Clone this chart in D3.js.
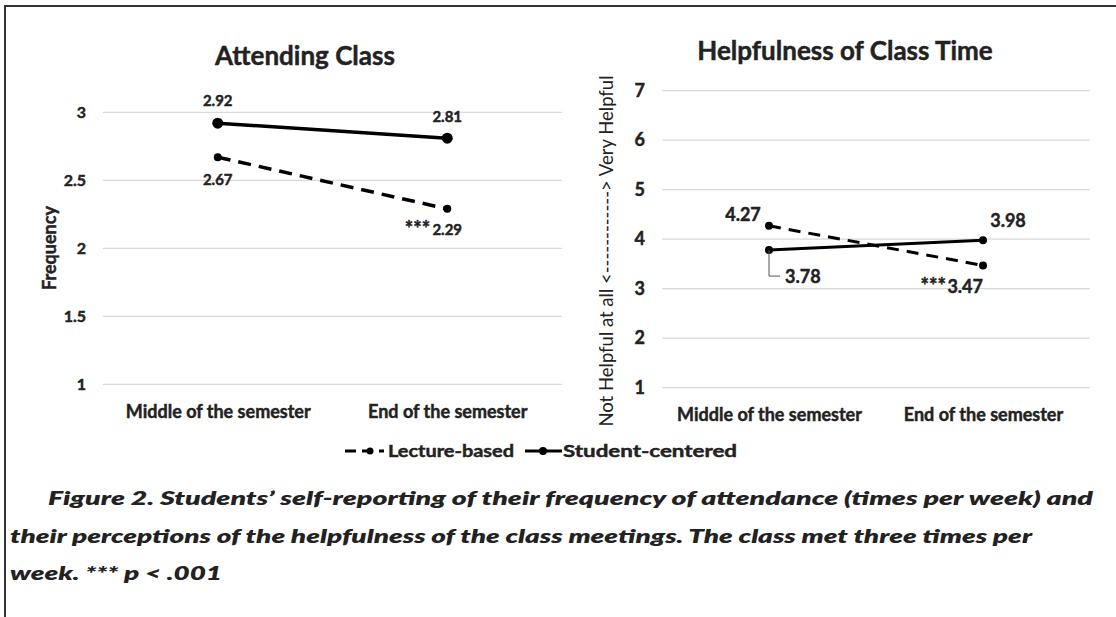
<!DOCTYPE html>
<html><head><meta charset="utf-8">
<script src="https://cdn.jsdelivr.net/npm/d3@7"></script>
<style>
html,body{margin:0;padding:0;background:#fff;}
svg{display:block;}
text{font-family:Lato,"Open Sans",sans-serif;fill:#222;}
.thick{stroke:#222;stroke-width:0.45px;paint-order:stroke;}
</style></head>
<body>
<svg id="c" width="1116" height="617"></svg>
<script>
const categories = ["Middle of the semester", "End of the semester"];
const attendLecture = [2.67, 2.29];
const attendStudent = [2.92, 2.81];
const helpLecture = [4.27, 3.47];
const helpStudent = [3.78, 3.98];
const attendTicks = [1, 1.5, 2, 2.5, 3];
const helpTicks = [1, 2, 3, 4, 5, 6, 7];
const attendLectureLabels = ["2.67", "2.29"];
const attendStudentLabels = ["2.92", "2.81"];
const helpLectureLabels = ["4.27", "3.47"];
const helpStudentLabels = ["3.78", "3.98"];
const signif = [false, true]; // *** on lecture-based at end of semester
const seriesNames = ["Lecture-based", "Student-centered"];
const captionLines = [
  "Figure 2. Students\u2019 self-reporting of their frequency of attendance (times per week) and",
  "their perceptions of the helpfulness of the class meetings. The class met three times per",
  "week. *** p < .001"
];

const W = 700;
const svg = d3.select("#c");

svg.append("path").attr("d","M5,617 L5,6 L1116,6").attr("fill","none").attr("stroke","#333").attr("stroke-width",2);

function panel(cfg){
  const g = svg.append("g");
  const x = d3.scalePoint().domain(categories).range([cfg.x0, cfg.x1]).padding(0.5);
  const y = d3.scaleLinear().domain(cfg.domain).range([cfg.yb, cfg.yt]);
  g.append("g").selectAll("line").data(cfg.ticks).join("line")
    .attr("x1", cfg.x0).attr("x2", cfg.x1)
    .attr("y1", d=>y(d)).attr("y2", d=>y(d))
    .attr("stroke","#d9d9d9").attr("stroke-width",1.2);
  const ya = d3.axisLeft(y).tickValues(cfg.ticks).tickSize(0).tickPadding(0).tickFormat(d3.format("~g"));
  const yg = g.append("g").attr("transform",`translate(${cfg.tickX},0)`).call(ya);
  yg.select(".domain").remove();
  yg.selectAll("text").attr("font-size",cfg.tickFs).attr("font-weight",W).attr("class","thick")
    .attr("font-family","Lato,sans-serif").attr("fill","#222");
  const xa = d3.axisBottom(x).tickSize(0).tickPadding(0);
  const xg = g.append("g").attr("transform",`translate(0,${cfg.catY})`).call(xa);
  xg.select(".domain").remove();
  xg.selectAll("text").attr("font-size",18).attr("font-weight",W).attr("class","thick")
    .attr("font-family","Lato,sans-serif").attr("fill","#222").attr("dy",0);
  g.append("text").attr("x",cfg.titleX).attr("y",cfg.titleY).attr("text-anchor","middle")
    .attr("class","thick").attr("font-size",26).attr("font-weight",W).text(cfg.title);
  g.append("text").attr("transform",`translate(${cfg.ytX},${cfg.ytY}) rotate(-90)`)
    .attr("text-anchor","middle").attr("font-size",cfg.ytFs).attr("font-weight",cfg.ytW)
    .attr("class",cfg.ytW===W?"thick":null)
    .attr("textLength",cfg.ytLen||null).attr("lengthAdjust","spacingAndGlyphs")
    .text(cfg.ytitle);
  const line = d3.line().x((d,i)=>x(categories[i])).y(d=>y(d));
  g.append("path").datum(cfg.lec).attr("d",line).attr("fill","none")
    .attr("stroke","#000").attr("stroke-width",cfg.lw).attr("stroke-dasharray",cfg.dash);
  g.append("g").selectAll("circle").data(cfg.lec).join("circle")
    .attr("cx",(d,i)=>x(categories[i])).attr("cy",d=>y(d)).attr("r",cfg.rLec).attr("fill","#000");
  g.append("path").datum(cfg.stu).attr("d",line).attr("fill","none")
    .attr("stroke","#000").attr("stroke-width",cfg.lw);
  g.append("g").selectAll("circle").data(cfg.stu).join("circle")
    .attr("cx",(d,i)=>x(categories[i])).attr("cy",d=>y(d)).attr("r",cfg.rStu).attr("fill","#000");
  return {g,x,y};
}

const L = panel({x0:103, x1:562, yb:384.3, yt:112.3, domain:[1,3], ticks:attendTicks,
  tickX:86, tickFs:16, catY:418, title:"Attending Class", titleX:305, titleY:65,
  ytitle:"Frequency", ytX:56, ytY:248, ytFs:18, ytW:W,
  lec:attendLecture, stu:attendStudent, lw:3.5, dash:"13,8", rLec:4, rStu:5.5});
function lab(P, xv, yv, txt, fs, anchor){
  P.g.append("text").attr("x",xv).attr("y",yv).attr("text-anchor",anchor||"middle")
    .attr("class","thick").attr("font-size",fs).attr("font-weight",W).text(txt);
}
lab(L, L.x(categories[0]), L.y(attendStudent[0]) - 17, attendStudentLabels[0], 15);
lab(L, L.x(categories[1]), L.y(attendStudent[1]) - 16, attendStudentLabels[1], 15);
lab(L, L.x(categories[0]), L.y(attendLecture[0]) + 28, attendLectureLabels[0], 15);
lab(L, L.x(categories[1]), L.y(attendLecture[1]) + 26, attendLectureLabels[1], 15);
if (signif[1]) lab(L, L.x(categories[1]) - 17, L.y(attendLecture[1]) + 27, "***", 20, "end");

const R = panel({x0:662, x1:1090, yb:387.7, yt:90.7, domain:[1,7], ticks:helpTicks,
  tickX:645, tickFs:18, catY:421, title:"Helpfulness of Class Time", titleX:845, titleY:60,
  ytitle:"Not Helpful at all <------------> Very Helpful", ytX:613, ytY:251, ytFs:19, ytW:400, ytLen:351,
  lec:helpLecture, stu:helpStudent, lw:3, dash:"12,8", rLec:4, rStu:4});
lab(R, R.x(categories[0]) - 26, R.y(helpLecture[0]) - 5, helpLectureLabels[0], 18);
lab(R, R.x(categories[1]) + 25, R.y(helpStudent[1]) - 13, helpStudentLabels[1], 18);
lab(R, R.x(categories[0]) + 16, R.y(helpStudent[0]) + 33, helpStudentLabels[0], 18, "start");
lab(R, R.x(categories[1]), R.y(helpLecture[1]) + 28, helpLectureLabels[1], 18, "end");
if (signif[1]) lab(R, R.x(categories[1]) - 37, R.y(helpLecture[1]) + 28, "***", 20, "end");
R.g.append("path").attr("d",`M${R.x(categories[0])},${R.y(helpStudent[0])} V${R.y(helpStudent[0])+26} H${R.x(categories[0])+11}`)
  .attr("fill","none").attr("stroke","#555").attr("stroke-width",1);

const leg = svg.append("g");
leg.append("line").attr("x1",345).attr("x2",384).attr("y1",451).attr("y2",451)
  .attr("stroke","#000").attr("stroke-width",3).attr("stroke-dasharray","11,6");
leg.append("circle").attr("cx",370).attr("cy",451).attr("r",3.5).attr("fill","#000");
leg.append("text").attr("x",388).attr("y",457).attr("font-size",17).attr("font-weight",W).attr("class","thick")
  .attr("textLength",126).attr("lengthAdjust","spacingAndGlyphs").text(seriesNames[0]);
leg.append("line").attr("x1",525).attr("x2",562).attr("y1",451).attr("y2",451)
  .attr("stroke","#000").attr("stroke-width",3);
leg.append("circle").attr("cx",543).attr("cy",451).attr("r",4).attr("fill","#000");
leg.append("text").attr("x",563).attr("y",457).attr("font-size",17).attr("font-weight",W).attr("class","thick")
  .attr("textLength",174).attr("lengthAdjust","spacingAndGlyphs").text(seriesNames[1]);

const capX = [48, 10, 10], capY = [505, 543, 580], capLen = [1045, 1022, 212];
svg.append("g").selectAll("text").data(captionLines).join("text")
  .attr("x",(d,i)=>capX[i]).attr("y",(d,i)=>capY[i])
  .attr("font-family","'Open Sans',sans-serif").attr("font-style","italic").attr("font-weight",800)
  .attr("font-size",19).attr("fill","#1a1a1a")
  .attr("textLength",(d,i)=>capLen[i]).attr("lengthAdjust","spacingAndGlyphs")
  .text(d=>d);
</script>
</body></html>
